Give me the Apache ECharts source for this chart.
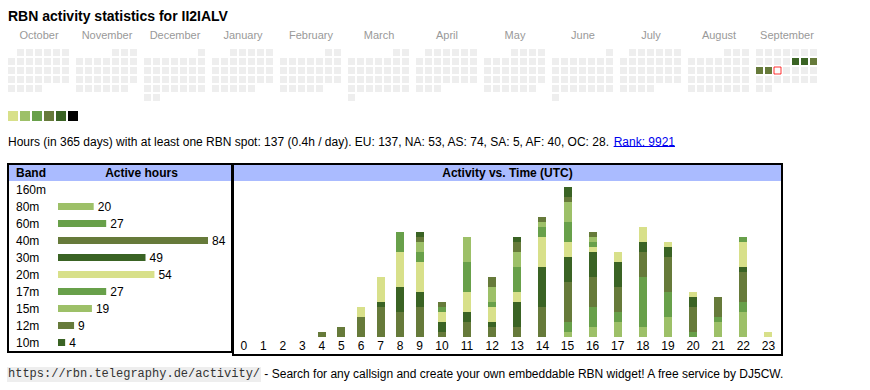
<!DOCTYPE html>
<html><head><meta charset="utf-8">
<script src="https://cdn.jsdelivr.net/npm/echarts@6/dist/echarts.min.js"></script>
<style>html,body{margin:0;padding:0;background:#fff}#c{width:870px;height:390px}</style>
</head><body><div id="c"></div>
<script>
// ---------- data ----------
const TITLE = 'RBN activity statistics for II2IALV';
const MONTHS = ['October','November','December','January','February','March','April','May','June','July','August','September'];
const MONTH_RANGES = ['2024-10','2024-11','2024-12','2025-01','2025-02','2025-03','2025-04','2025-05','2025-06','2025-07','2025-08','2025-09'];
const ACTIVE_DAYS = [['2025-09-12',5],['2025-09-13',5],['2025-09-14',4],['2025-09-15',4],['2025-09-16',4]];
const TODAY = '2025-09-17';
const LEVELS = [1,2,3,4,5,6];
const STATS_TEXT = 'Hours (in 365 days) with at least one RBN spot: 137 (0.4h / day). EU: 137, NA: 53, AS: 74, SA: 5, AF: 40, OC: 28. ';
const RANK_TEXT = 'Rank: 9921';
const FOOT_URL = 'https://rbn.telegraphy.de/activity/';
const FOOT_TEXT = ' - Search for any callsign and create your own embeddable RBN widget! A free service by DJ5CW.';
const BAND_HEADER = 'Band';
const HOURS_HEADER = 'Active hours';
const TIME_HEADER = 'Activity vs. Time (UTC)';

const BANDS = ['160m','80m','60m','40m','30m','20m','17m','15m','12m','10m'];
const BAND_HOURS = [0,20,27,84,49,54,27,19,9,4];
const HOURS = ['0','1','2','3','4','5','6','7','8','9','10','11','12','13','14','15','16','17','18','19','20','21','22','23'];
//                 0 1 2 3 4 5 6 7 8 9 10 11 12 13 14 15 16 17 18 19 20 21 22 23
const H_160M = [0,0,0,0,0,0,0,0,0,0, 0, 0, 0, 0, 0, 0, 0, 0, 0, 0, 0, 0, 0, 0];
const H_80M  = [0,0,0,0,0,0,0,0,0,0, 0, 0, 0, 0, 0, 1, 2, 3, 2, 4, 0, 3, 5, 0];
const H_60M  = [0,0,0,0,0,0,0,0,0,0, 0, 0, 0, 0, 0, 2, 4, 2,10, 5, 1, 1, 2, 0];
const H_40M  = [0,0,0,0,1,2,4,6,5,6, 1, 3, 2, 2, 6, 8, 6, 5, 5, 7, 5, 4, 6, 0];
const H_30M  = [0,0,0,0,0,0,0,1,5,3, 2, 2, 1, 5, 8, 5, 5, 5, 2, 2, 2, 0, 1, 0];
const H_20M  = [0,0,0,0,0,0,2,5,7,6, 2, 4, 3, 2, 6, 3, 1, 2, 3, 1, 1, 0, 5, 1];
const H_17M  = [0,0,0,0,0,0,0,0,4,2, 1, 6, 1, 5, 2, 4, 1, 0, 0, 0, 0, 0, 1, 0];
const H_15M  = [0,0,0,0,0,0,0,0,0,2, 0, 5, 3, 3, 1, 4, 1, 0, 0, 0, 0, 0, 0, 0];
const H_12M  = [0,0,0,0,0,0,0,0,0,1, 1, 0, 2, 2, 1, 1, 1, 0, 0, 0, 0, 0, 0, 0];
const H_10M  = [0,0,0,0,0,0,0,0,0,1, 0, 0, 0, 1, 0, 2, 0, 0, 0, 0, 0, 0, 0, 0];
const HOURLY = [H_160M,H_80M,H_60M,H_40M,H_30M,H_20M,H_17M,H_15M,H_12M,H_10M];

// ---------- styles ----------
const C1='#d8e08a', C2='#9dc068', C3='#68a04a', C4='#667a3a', C5='#3a6324', C6='#000000';
const LEVEL_COLORS = [C1,C2,C3,C4,C5,C6];
const BAND_COLORS = [C1,C2,C3,C4,C5,C1,C3,C2,C4,C5];
const FONT = '"Liberation Sans", Arial, Helvetica, sans-serif';
const MONO = '"Liberation Mono", "Courier New", monospace';
const HEAD_BG = '#aabbff';

const mctx = document.createElement('canvas').getContext('2d');
function tw(str, font){ mctx.font = font; return mctx.measureText(str).width; }

// hour columns sized like a table: padding + digit widths
const colW = HOURS.map(h => 14 + 5.6 * h.length);
const centers = []; let acc = 0;
colW.forEach(w => { centers.push(acc + w / 2); acc += w; });
const totalW = acc;

const base = HOURS.map(() => 0);
const stackData = HOURLY.map(arr => arr.map((v, i) => { const s = base[i]; base[i] += v; return [centers[i], s, s + v]; }));
const maxTotal = Math.max(...base);

function makeRender(color){
  return function(params, api){
    const x = api.value(0), y0 = api.value(1), y1 = api.value(2);
    if (!(y1 > y0)) return null;
    const p0 = api.coord([x, y0]), p1 = api.coord([x, y1]);
    return { type:'rect', shape:{ x: Math.round(p0[0] - 4), y: Math.round(p1[1]), width: 8, height: Math.round(p0[1]) - Math.round(p1[1]) }, style:{ fill: color } };
  };
}

const calendars = MONTH_RANGES.map((r, m) => ({
  orient:'vertical', range:r, left: 7 + 68 * m, top: 48, cellSize:[9, 9],
  splitLine:{show:false}, itemStyle:{color:'#eeeeee', borderColor:'#ffffff', borderWidth:2},
  dayLabel:{show:false, firstDay:1}, monthLabel:{show:false}, yearLabel:{show:false}, silent:true
}));

const series = [];
series.push({
  type:'bar', xAxisIndex:0, yAxisIndex:0, barWidth:7, silent:true,
  data: BAND_HOURS.map((v, i) => ({ value:v, itemStyle:{ color: BAND_COLORS[i] } })),
  label:{ show:true, position:'right', distance:4, fontSize:12, color:'#000', fontFamily:FONT,
          formatter: p => p.value ? String(p.value) : '' }
});
BANDS.forEach((b, bi) => {
  series.push({ type:'custom', name:b, xAxisIndex:1, yAxisIndex:1, silent:true,
    renderItem: makeRender(BAND_COLORS[bi]), encode:{ x:0, y:[1, 2] }, data: stackData[bi] });
});
const heatIdx = series.length;
series.push({ type:'heatmap', coordinateSystem:'calendar', calendarIndex: MONTH_RANGES.length - 1,
  data: ACTIVE_DAYS, silent:true });
series.push({ type:'scatter', coordinateSystem:'calendar', calendarIndex: MONTH_RANGES.length - 1, data: [[TODAY, 1]],
  symbol:'rect', symbolSize:7, silent:true, itemStyle:{ color:'#ffffff', borderColor:'#ff0000', borderWidth:1 } });

const statsFont = '12px ' + FONT;
const statsW = tw(STATS_TEXT, statsFont);
const rankW = tw(RANK_TEXT, statsFont);
const monoFont = '12px ' + MONO;
const urlW = tw(FOOT_URL, monoFont);

function txt(x, y, text, font, fill, align){
  return { type:'text', x:x, y:y, silent:true, style:{ text:text, font:font, fill:fill||'#000', align:align||'left', verticalAlign:'middle', textAlign:align||'left', textVerticalAlign:'middle' } };
}

const graphics = [];
graphics.push(txt(8, 16, TITLE, 'bold 14px ' + FONT, '#000'));
MONTHS.forEach((name, m) => graphics.push(txt(7 + 68 * m + 32, 35, name, '11px ' + FONT, '#999', 'center')));
graphics.push(txt(8, 142, STATS_TEXT, statsFont, '#000'));
graphics.push(txt(8 + statsW, 142, RANK_TEXT, statsFont, '#0000ee'));
graphics.push({ type:'rect', silent:true, shape:{ x: 8 + statsW, y: 146, width: rankW, height: 1 }, style:{ fill:'#0000ee' } });
graphics.push({ type:'rect', silent:true, shape:{ x:9, y:165, width:222, height:16 }, style:{ fill: HEAD_BG } });
graphics.push({ type:'rect', silent:true, shape:{ x:234, y:165, width:547, height:16 }, style:{ fill: HEAD_BG } });
graphics.push(txt(16, 173, BAND_HEADER, 'bold 12px ' + FONT));
graphics.push(txt(141.5, 173, HOURS_HEADER, 'bold 12px ' + FONT, '#000', 'center'));
graphics.push(txt(507.5, 173, TIME_HEADER, 'bold 12px ' + FONT, '#000', 'center'));
graphics.push({ type:'rect', silent:true, shape:{ x:8, y:164, width:224, height:188 }, style:{ fill:'none', stroke:'#000', lineWidth:2 } });
graphics.push({ type:'rect', silent:true, shape:{ x:233, y:164, width:549, height:191 }, style:{ fill:'none', stroke:'#000', lineWidth:2 } });
graphics.push({ type:'rect', silent:true, shape:{ x:7, y:367, width: urlW + 2, height: 15 }, style:{ fill:'#eeeeee' } });
graphics.push(txt(8, 374, FOOT_URL, monoFont, '#333'));
graphics.push(txt(9 + urlW, 374, FOOT_TEXT, statsFont, '#000'));

const option = {
  animation:false,
  backgroundColor:'#ffffff',
  textStyle:{ fontFamily: FONT },
  calendar: calendars,
  visualMap: [{
    type:'piecewise', seriesIndex: heatIdx, orient:'horizontal', left:8, top:111, padding:0,
    itemWidth:10, itemHeight:10, itemGap:2, itemSymbol:'rect', showLabel:false, selectedMode:false,
    pieces: LEVELS.map((v, i) => ({ value: v, color: LEVEL_COLORS[i] }))
  }],
  grid: [
    { left:58, top:181, width:150, height:170 },
    { left:234, top:187, width:547, height:150 }
  ],
  xAxis: [
    { gridIndex:0, type:'value', min:0, max: Math.max(...BAND_HOURS), show:false },
    { gridIndex:1, type:'value', min:0, max: totalW, axisLine:{show:false}, axisTick:{show:false}, splitLine:{show:false},
      axisLabel:{ customValues: centers, margin:3, fontSize:12, color:'#000', fontFamily:FONT,
        formatter: v => { let bi = 0, bd = Infinity; centers.forEach((c, i) => { const d = Math.abs(c - v); if (d < bd) { bd = d; bi = i; } }); return HOURS[bi]; } } }
  ],
  yAxis: [
    { gridIndex:0, type:'category', data: BANDS, inverse:true, axisLine:{show:false}, axisTick:{show:false}, splitLine:{show:false},
      axisLabel:{ align:'left', margin:42, fontSize:12, color:'#000', fontFamily:FONT } },
    { gridIndex:1, type:'value', min:0, max: maxTotal, show:false }
  ],
  series: series,
  graphic: { elements: graphics }
};
const chart = echarts.init(document.getElementById('c'), null, { renderer:'svg', width:870, height:390 });
chart.setOption(option);
</script>
</body></html>
